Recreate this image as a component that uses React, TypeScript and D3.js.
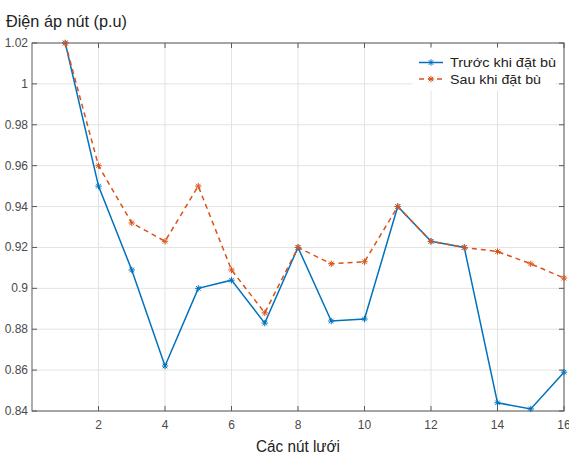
import React from "react";
import * as d3 from "d3";

const nodes = [1, 2, 3, 4, 5, 6, 7, 8, 9, 10, 11, 12, 13, 14, 15, 16];
const before = [1.02, 0.95, 0.909, 0.862, 0.9, 0.904, 0.883, 0.92, 0.884, 0.885, 0.94, 0.923, 0.92, 0.844, 0.841, 0.859];
const after = [1.02, 0.96, 0.932, 0.923, 0.95, 0.909, 0.888, 0.92, 0.912, 0.913, 0.94, 0.923, 0.92, 0.918, 0.912, 0.905];
const xTicks = [2, 4, 6, 8, 10, 12, 14, 16];
const yTicks = [0.84, 0.86, 0.88, 0.9, 0.92, 0.94, 0.96, 0.98, 1, 1.02];
const seriesNames = ["Trước khi đặt bù", "Sau khi đặt bù"];
const colors = ["#0072BD", "#D95319"];

const W = 569, H = 457;
const L = 32, R = 564, T = 43, B = 411;

function Star({ x, y, c }: { x: number; y: number; c: string }) {
  const r = 3.2;
  const d = r * 0.72;
  return (
    <g stroke={c} strokeWidth={1}>
      <line x1={x - r} y1={y} x2={x + r} y2={y} />
      <line x1={x} y1={y - r} x2={x} y2={y + r} />
      <line x1={x - d} y1={y - d} x2={x + d} y2={y + d} />
      <line x1={x - d} y1={y + d} x2={x + d} y2={y - d} />
    </g>
  );
}

export default function App() {
  const x = d3.scaleLinear().domain([0, 16]).range([L, R]);
  const y = d3.scaleLinear().domain([0.84, 1.02]).range([B, T]);
  const line = d3.line<number>().x((_, i) => x(nodes[i])).y((v) => y(v));
  const series = [before, after];
  const font = "Liberation Sans, Arial, sans-serif";
  return (
    <svg width={W} height={H} style={{ position: "absolute", left: 0, top: 0, background: "#fff" }} fontFamily={font}>
      <rect x={0} y={0} width={W} height={H} fill="#fff" />
      {xTicks.map((t) => (
        <line key={"gx" + t} x1={x(t)} x2={x(t)} y1={T} y2={B} stroke="#e3e3e3" strokeWidth={1} />
      ))}
      {yTicks.map((t) => (
        <line key={"gy" + t} x1={L} x2={R} y1={y(t)} y2={y(t)} stroke="#e3e3e3" strokeWidth={1} />
      ))}
      <rect x={L} y={T} width={R - L} height={B - T} fill="none" stroke="#5a5a5a" strokeWidth={1} />
      {xTicks.map((t) => (
        <g key={"tx" + t}>
          <line x1={x(t)} x2={x(t)} y1={B} y2={B - 5} stroke="#5a5a5a" />
          <line x1={x(t)} x2={x(t)} y1={T} y2={T + 5} stroke="#5a5a5a" />
          <text x={x(t)} y={B + 18} textAnchor="middle" fontSize={12} fill="#4a4a4a">{t}</text>
        </g>
      ))}
      {yTicks.map((t) => (
        <g key={"ty" + t}>
          <line x1={L} x2={L + 5} y1={y(t)} y2={y(t)} stroke="#5a5a5a" />
          <line x1={R} x2={R - 5} y1={y(t)} y2={y(t)} stroke="#5a5a5a" />
          <text x={L - 4} y={y(t) + 4} textAnchor="end" fontSize={12} fill="#4a4a4a">{String(+t.toFixed(2))}</text>
        </g>
      ))}
      {series.map((s, k) => (
        <g key={"s" + k}>
          <path d={line(s) || ""} fill="none" stroke={colors[k]} strokeWidth={1.5} strokeDasharray={k === 1 ? "5,4" : undefined} />
          {s.map((v, i) => (
            <Star key={i} x={x(nodes[i])} y={y(v)} c={colors[k]} />
          ))}
        </g>
      ))}
      <rect x={413} y={48} width={142} height={42} fill="#fff" stroke="#ffffff" />
      {seriesNames.map((n, k) => (
        <g key={"l" + k}>
          <line x1={419} x2={443} y1={62.5 + k * 16.5} y2={62.5 + k * 16.5} stroke={colors[k]} strokeWidth={1.5} strokeDasharray={k === 1 ? "5,4" : undefined} />
          <Star x={431} y={62.5 + k * 16.5} c={colors[k]} />
          <text x={450} y={67 + k * 16.5} fontSize={13} fill="#222" textLength={k === 0 ? 106 : 91} lengthAdjust="spacingAndGlyphs">{n}</text>
        </g>
      ))}
      <text x={6} y={27} fontSize={17} fill="#222" textLength={121} lengthAdjust="spacingAndGlyphs">Điện áp nút (p.u)</text>
      <text x={256} y={452} fontSize={16} fill="#222" textLength={84} lengthAdjust="spacingAndGlyphs">Các nút lưới</text>
    </svg>
  );
}
